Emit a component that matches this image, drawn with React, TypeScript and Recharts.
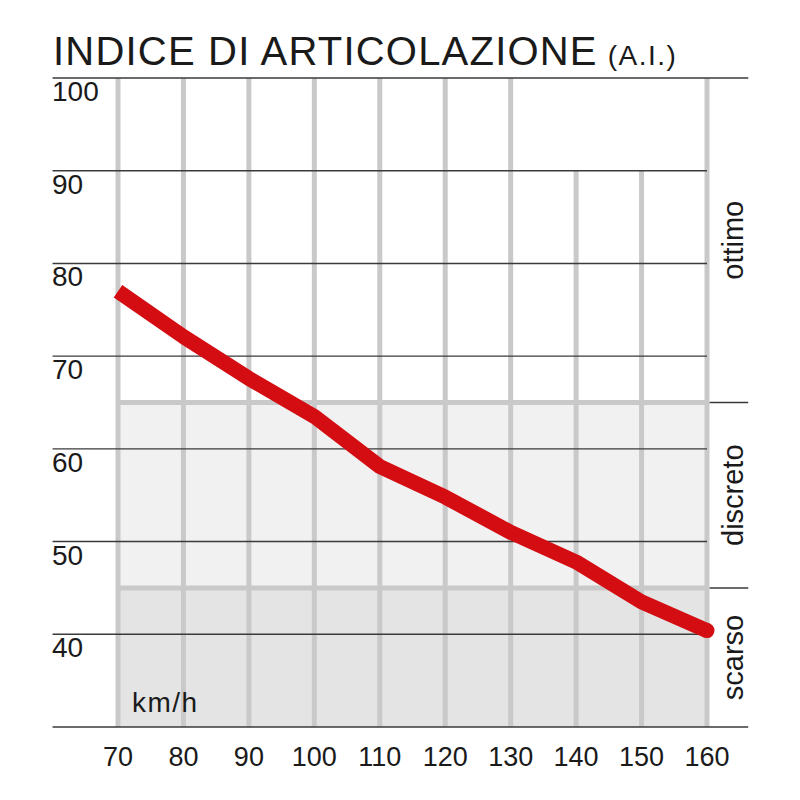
import React from 'react';
import { LineChart, Line, XAxis, YAxis, ReferenceLine, ReferenceArea } from 'recharts';

const speeds = [70, 80, 90, 100, 110, 120, 130, 140, 150, 160];
const aiValues = [77, 72.1, 67.6, 63.5, 58.1, 54.8, 51, 47.8, 43.5, 40.4];
const yTicks = [40, 50, 60, 70, 80, 90, 100];
const gridRows = [40, 50, 60, 70, 80, 90];
const bandNames = ['scarso', 'discreto', 'ottimo'];
const bandFrom = [30, 45, 65];
const bandTo = [45, 65, 100];
const shortColumns = [140, 150];

const data = speeds.map((s, i) => ({ speed: s, ai: aiValues[i] }));

const FONT = '"Liberation Sans", Arial, Helvetica, sans-serif';
const TEXT = '#1a1a1a';
const RED = '#d40d13';
const GRAY = '#c9c9c9';
const LINE = '#3a3a3a';
const bandFill = ['#e4e4e4', '#f1f1f1', 'none'];

const XTick = (props: any) => {
  const { x, y, payload } = props;
  return (
    <text x={x} y={y} dy={31} textAnchor="middle" fontSize={27} fill={TEXT} fontFamily={FONT}>
      {payload.value}
    </text>
  );
};

const YTick = (props: any) => {
  const { y, payload } = props;
  return (
    <text x={52} y={y} dy={23} textAnchor="start" fontSize={28} fill={TEXT} fontFamily={FONT}>
      {payload.value}
    </text>
  );
};

const bandLabel = (name: string) => (p: any) => {
  const vb = p.viewBox;
  if (!vb) return null;
  const cx = vb.x + vb.width + 36;
  const cy = vb.y + vb.height / 2;
  return (
    <text
      x={cx}
      y={cy}
      textAnchor="middle"
      fontSize={29}
      fill={TEXT}
      fontFamily={FONT}
      transform={`rotate(-90, ${cx}, ${cy})`}
    >
      {name}
    </text>
  );
};

const lastIndex = data.length - 1;
const EndDot = (props: any) => {
  const { cx, cy, index } = props;
  if (index !== lastIndex) return <g key={`d${index}`} />;
  return <circle key={`d${index}`} cx={cx} cy={cy} r={7.5} fill={RED} />;
};

export default function App() {
  return (
    <div
      style={{
        position: 'absolute',
        left: 0,
        top: 0,
        width: 800,
        height: 800,
        background: '#fff',
        fontFamily: FONT,
        color: TEXT,
      }}
    >
      <div
        style={{
          position: 'absolute',
          left: 53,
          top: 31,
          fontSize: 40,
          lineHeight: 1,
          letterSpacing: 1.2,
          whiteSpace: 'nowrap',
        }}
      >
        INDICE DI ARTICOLAZIONE
        <span style={{ fontSize: 28, letterSpacing: 1.5, marginLeft: 10 }}>(A.I.)</span>
      </div>
      <LineChart
        width={800}
        height={800}
        data={data}
        margin={{ top: 78, right: 93, bottom: 0, left: 52 }}
        style={{ position: 'absolute', left: 0, top: 0 }}
      >
        <XAxis
          dataKey="speed"
          type="number"
          domain={[70, 160]}
          ticks={speeds}
          axisLine={false}
          tickLine={false}
          height={73}
          tick={<XTick />}
          interval={0}
        />
        <YAxis
          type="number"
          domain={[30, 100]}
          ticks={yTicks}
          axisLine={false}
          tickLine={false}
          width={66}
          tick={<YTick />}
          interval={0}
        />
        {bandNames.map((name, i) => (
          <ReferenceArea
            key={name}
            y1={bandFrom[i]}
            y2={bandTo[i]}
            x1={70}
            x2={160}
            fill={bandFill[i]}
            fillOpacity={1}
            stroke="none"
            ifOverflow="visible"
            label={bandLabel(name)}
          />
        ))}
        {speeds
          .filter((s) => !shortColumns.includes(s))
          .map((s) => (
            <ReferenceLine key={`v${s}`} x={s} stroke={GRAY} strokeWidth={5} ifOverflow="visible" />
          ))}
        {shortColumns.map((s) => (
          <ReferenceLine
            key={`vs${s}`}
            segment={[
              { x: s, y: 30 },
              { x: s, y: 90 },
            ]}
            stroke={GRAY}
            strokeWidth={5}
            ifOverflow="visible"
          />
        ))}
        <ReferenceLine y={65} stroke={GRAY} strokeWidth={5} ifOverflow="visible" />
        <ReferenceLine y={45} stroke={GRAY} strokeWidth={5} ifOverflow="visible" />
        {gridRows.map((v) => (
          <ReferenceLine
            key={`h${v}`}
            segment={[
              { x: 60, y: v },
              { x: 160, y: v },
            ]}
            stroke={LINE}
            strokeWidth={1.4}
            ifOverflow="visible"
          />
        ))}
        {[30, 100].map((v) => (
          <ReferenceLine
            key={`hb${v}`}
            segment={[
              { x: 60, y: v },
              { x: 166.3, y: v },
            ]}
            stroke={LINE}
            strokeWidth={1.4}
            ifOverflow="visible"
          />
        ))}
        {[45, 65].map((v) => (
          <ReferenceLine
            key={`t${v}`}
            segment={[
              { x: 160.4, y: v },
              { x: 166.3, y: v },
            ]}
            stroke={LINE}
            strokeWidth={1.4}
            ifOverflow="visible"
          />
        ))}
        <Line
          type="linear"
          dataKey="ai"
          stroke={RED}
          strokeWidth={15}
          strokeLinejoin="round"
          dot={EndDot}
          activeDot={false}
          isAnimationActive={false}
        />
      </LineChart>
      <div
        style={{
          position: 'absolute',
          left: 132,
          top: 689,
          fontSize: 28,
          lineHeight: 1,
          letterSpacing: 1.5,
          zIndex: 2,
        }}
      >
        km/h
      </div>
    </div>
  );
}
